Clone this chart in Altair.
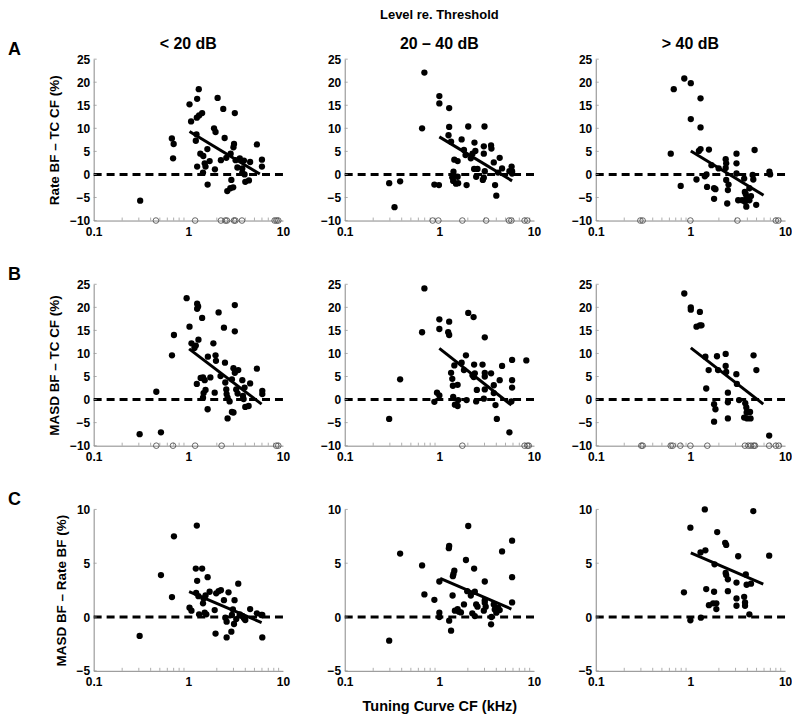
import altair as alt
import pandas as pd

FONT = "Liberation Sans"
W, H = 190, 162

# ---------------- text ----------------
main_title = ["Level re. Threshold"]
col_headers = ["< 20 dB", "20 – 40 dB", "> 40 dB"]
row_letters = ["A", "B", "C"]
row_ytitles = ["Rate BF – TC CF (%)", "MASD BF – TC CF (%)", "MASD BF – Rate BF (%)"]
x_title = "Tuning Curve CF (kHz)"

# ---------------- axis ticks ----------------
x_major = [0.1, 1, 10]
x_minor = [0.2, 0.3, 0.4, 0.5, 0.6, 0.7, 0.8, 0.9, 2, 3, 4, 5, 6, 7, 8, 9]
y_ticks_ab = [-10, -5, 0, 5, 10, 15, 20, 25]
y_ticks_c = [-5, 0, 5, 10]
y_dom_ab = [-10, 25]
y_dom_c = [-5, 10]

# ---------------- data: [CF kHz, difference %] ----------------
a1_points = [[0.31, -5.7], [0.67, 7.8], [0.70, 6.6], [0.69, 3.5], [1.03, 15.2], [1.07, 11.5],
             [1.2, 7.3], [1.22, 8.7], [1.24, 16.4], [1.29, 18.5], [1.23, 12.3], [1.30, 12.8],
             [1.40, 13.3], [1.24, 1.7], [1.34, 4.5], [1.44, 4.0], [1.43, 0.4], [1.49, 2.4],
             [1.59, 5.5], [1.52, 1.7], [1.6, -2.2], [1.68, 2.9], [1.87, 10.0], [1.94, 9.2],
             [1.91, 1.1], [2.04, 16.6], [2.34, 14.2], [2.42, 7.9], [2.21, 3.1], [2.52, 3.6],
             [2.58, -3.6], [2.78, -3.0], [2.85, -1.2], [2.8, 4.5], [2.98, -2.8], [3.04, 6.6],
             [3.1, 13.3], [3.0, 5.9], [3.16, 3.1], [3.3, 1.5], [3.5, 3.5], [3.72, 1.3],
             [3.72, 0.4], [3.87, 3.0], [3.93, 0.0], [4.0, -1.6], [4.37, -1.3], [4.5, 2.7],
             [5.3, 6.5], [6.0, 3.2], [6.0, 1.7]]
a1_open = [0.455, 1.18, 2.21, 2.46, 2.56, 3.04, 3.14, 3.69, 8.17, 8.57, 8.92]
a1_fit = [[1.03, 9.3], [5.7, 0.1]]

a2_points = [[0.695, 22.1], [0.657, 10.0], [0.295, -1.9], [0.336, -7.1], [0.385, -1.5],
             [0.886, -2.2], [0.99, -2.3], [1.0, 17.0], [1.0, 15.4], [1.27, 14.4], [1.27, 10.3],
             [1.25, 8.5], [1.33, 7.1], [1.41, 0.6], [1.37, -0.6], [1.4, -1.4], [1.44, 3.2],
             [1.56, 2.9], [1.56, -0.5], [1.5, -2.0], [1.58, -1.9], [1.72, 7.6], [1.82, 5.3],
             [1.89, 4.2], [1.94, -2.3], [2.02, 10.4], [2.15, 3.5], [2.24, 4.5], [2.33, 1.2],
             [2.35, 6.9], [2.4, 5.1], [2.45, -0.5], [2.53, 1.2], [2.88, -1.2], [2.95, -0.7],
             [2.95, 6.1], [2.95, 4.5], [3.0, 10.4], [3.02, 0.7], [3.52, 6.3], [3.55, 5.6],
             [3.76, 2.6], [3.88, -2.3], [4.0, -4.6], [4.17, 0.4], [4.34, 3.6], [4.6, 1.3],
             [5.8, 1.7], [5.87, 0.7], [5.87, 0.2], [5.5, 0.7]]
a2_open = [0.85, 0.976, 1.75, 3.12, 5.45, 5.77, 7.96, 8.5]
a2_fit = [[1.0, 8.15], [5.87, -1.4]]

a3_points = [[0.62, 4.5], [0.667, 18.5], [0.862, 20.8], [1.01, 19.8], [1.01, 12.0], [0.79, -2.5],
             [1.16, -1.1], [1.28, 16.5], [1.28, 10.2], [1.23, 5.1], [1.28, 5.5], [1.42, -0.4],
             [1.48, 0.0], [1.57, 5.4], [1.5, -2.7], [1.78, -3.0], [1.84, -3.2], [1.78, -5.3],
             [1.67, 2.0], [1.99, 1.3], [2.36, 3.3], [2.39, 2.4], [2.36, 1.4], [2.39, -1.2],
             [2.49, -3.4], [2.45, -6.3], [2.53, -2.2], [3.07, 4.5], [3.07, 2.4], [3.07, 0.2],
             [3.2, -5.6], [3.52, -5.6], [3.7, -0.9], [3.76, -3.8], [3.85, -4.3], [3.9, -5.2],
             [3.78, -5.9], [3.9, -7.0], [4.2, -3.0], [4.2, -5.6], [4.37, -4.7], [4.55, -0.1],
             [4.62, -1.1], [4.77, 5.3], [4.96, -6.6], [6.84, 0.6], [6.96, 0.0]]
a3_open = [0.296, 0.313, 1.0, 3.14, 8.0, 8.5]
a3_fit = [[1.01, 5.1], [5.93, -4.5]]

b1_points = [[0.306, -7.5], [0.459, 1.7], [0.514, -7.1], [0.672, 9.6], [0.705, 14.0], [0.96, 22.0],
             [1.03, 15.8], [1.08, 12.2], [1.16, 11.2], [1.2, 11.7], [1.24, 20.8], [1.27, 20.2],
             [1.24, 19.7], [1.28, 13.0], [1.23, 3.4], [1.35, 4.7], [1.4, 17.7], [1.43, 4.8],
             [1.49, 4.2], [1.45, 1.4], [1.43, 0.4], [1.52, 2.1], [1.6, -2.1], [1.61, 9.3],
             [1.71, 4.8], [1.84, 12.2], [1.9, 1.5], [1.94, 9.6], [1.96, 8.4], [2.09, 18.9],
             [2.19, 5.1], [2.38, 15.6], [2.44, 8.0], [2.46, 3.7], [2.52, 2.2], [2.54, 1.2],
             [2.6, -4.1], [2.6, 0.4], [2.73, -0.4], [2.89, 4.4], [2.89, -2.7], [3.0, 6.8],
             [3.0, -2.8], [3.1, 20.5], [3.1, 14.8], [3.1, 5.8], [3.21, 2.2], [3.37, 6.4],
             [3.32, 1.3], [3.72, 4.2], [3.78, 0.8], [3.84, 0.1], [3.93, 2.6], [4.0, -1.6],
             [4.34, -1.4], [4.5, 3.5], [5.3, 6.7], [6.05, 1.9], [6.05, 1.2]]
b1_open = [0.459, 0.689, 1.18, 2.25, 8.5, 8.92]
b1_fit = [[1.02, 11.0], [5.95, -1.0]]

b2_points = [[0.295, -4.2], [0.385, 4.4], [0.657, 14.6], [0.695, 24.1], [0.886, -0.5], [0.945, 1.5],
             [1.0, 0.9], [1.0, 17.4], [1.0, 15.3], [1.27, 16.9], [1.24, 14.6], [1.27, 14.0],
             [1.33, 5.8], [1.37, 4.5], [1.39, 3.0], [1.40, 0.6], [1.44, 7.4], [1.46, -1.1],
             [1.56, -1.4], [1.56, 3.2], [1.58, -0.1], [1.72, 8.0], [1.82, 6.4], [1.91, 9.6],
             [1.94, -0.1], [2.02, 18.8], [2.24, 5.3], [2.3, 17.9], [2.31, 4.9], [2.33, 7.6],
             [2.37, 5.7], [2.49, 2.1], [2.45, -0.4], [2.86, 7.6], [2.95, 0.2], [3.02, 5.8],
             [3.02, 5.0], [3.02, 13.5], [3.02, 2.2], [3.52, 5.7], [3.76, 3.1], [3.76, 1.4],
             [3.92, -1.2], [4.05, -4.2], [4.34, 4.2], [4.6, 7.3], [5.5, -7.1], [5.77, -0.4],
             [5.87, 8.6], [5.87, 4.2], [5.87, 2.6], [8.3, 8.5]]
b2_open = [1.75, 7.96, 8.5, 8.8]
b2_fit = [[1.0, 11.1], [5.77, -1.2]]

b3_points = [[0.862, 23.0], [1.01, 20.0], [1.01, 19.5], [1.26, 19.0], [1.16, 15.8], [1.26, 16.1],
             [1.31, 16.1], [1.44, 9.3], [1.56, 6.4], [1.47, 2.4], [1.78, -1.0], [1.84, -2.1],
             [1.78, -4.8], [1.91, 9.4], [1.96, 6.4], [2.36, 9.9], [2.36, 7.3], [2.39, 6.0],
             [2.49, 1.5], [2.49, -0.6], [2.49, -4.1], [3.06, 5.5], [3.1, 3.4], [3.27, -0.1],
             [3.7, -3.9], [3.8, -0.8], [3.9, -1.7], [3.93, -2.8], [3.98, -4.1], [4.27, -2.7],
             [4.32, -4.1], [4.65, 9.6], [4.98, 6.4], [6.8, -7.8]]
b3_open = [0.303, 0.313, 0.62, 0.65, 0.783, 1.0, 1.51, 3.77, 4.1, 4.37, 4.66, 4.81, 6.8, 8.0, 8.6]
b3_fit = [[1.01, 11.2], [5.89, -1.0]]

c1_points = [[0.306, -1.76], [0.514, 3.9], [0.672, 1.85], [0.705, 7.5], [1.03, 0.86], [1.08, 0.59],
             [1.2, 4.5], [1.23, 8.5], [1.24, 3.36], [1.21, 2.25], [1.28, 1.94], [1.3, 0.25],
             [1.4, 4.5], [1.43, 1.27], [1.45, 1.73], [1.49, 0.4], [1.52, 2.0], [1.55, 0.25],
             [1.6, 3.7], [1.68, 2.35], [1.9, 0.65], [1.94, -1.54], [1.97, 2.2], [2.09, 2.4],
             [2.21, 2.5], [2.38, 1.57], [2.46, -0.06], [2.54, -0.43], [2.54, -1.9], [2.66, 2.3],
             [2.85, -1.36], [2.89, 0.19], [2.96, 0.71], [3.04, -0.65], [3.08, 1.57], [3.21, -0.19],
             [3.37, 3.1], [3.5, 0.25], [3.72, 0.1], [3.87, -0.12], [4.0, -0.28], [4.5, 0.74],
             [5.3, 0.34], [5.9, 0.19], [6.05, -1.9], [6.05, 0.19]]
c1_fit = [[1.02, 2.35], [5.95, -0.52]]

c2_points = [[0.295, -2.2], [0.385, 5.9], [0.657, 4.8], [0.695, 2.1], [0.886, 1.6], [1.0, 3.3],
             [1.0, 0.4], [1.0, 0.0], [1.27, 6.6], [1.26, 6.4], [1.27, -0.34], [1.33, -1.27],
             [1.38, 2.0], [1.39, 3.8], [1.44, 4.3], [1.41, 4.0], [1.46, 0.59], [1.56, 0.74],
             [1.61, 0.5], [1.69, 0.43], [1.82, 1.17], [1.91, 5.3], [1.97, 2.4], [2.02, 8.46],
             [2.15, 2.0], [2.23, 0.34], [2.33, 4.5], [2.37, 2.35], [2.37, 0.09], [2.45, 1.17],
             [2.53, 0.96], [2.95, 0.59], [3.02, 3.3], [3.02, 1.57], [3.02, 1.33], [3.09, 0.96],
             [3.52, -0.68], [3.55, 0.0], [3.76, 1.17], [3.85, 0.71], [4.0, 0.4], [4.17, 0.86],
             [4.34, 0.65], [4.6, 6.1], [5.87, 7.1], [5.87, 3.7], [5.87, 1.36]]
c2_fit = [[1.02, 3.6], [5.77, 0.74]]

c3_points = [[0.855, 2.3], [1.0, 8.3], [1.0, -0.3], [1.28, 6.0], [1.29, -0.06], [1.42, 10.0],
             [1.44, 6.2], [1.47, 2.6], [1.57, 1.1], [1.74, 1.27], [1.78, 2.35], [1.8, 4.9],
             [1.88, 0.74], [1.88, 1.27], [1.92, 7.9], [2.33, 6.9], [2.39, 6.7], [2.36, 4.1],
             [2.39, 3.9], [2.49, 3.5], [2.49, 2.4], [3.07, 3.2], [3.07, 1.73], [3.07, 1.05],
             [3.2, 5.65], [3.7, 1.88], [3.78, 1.36], [3.78, 1.05], [3.85, 3.95], [3.93, 3.0],
             [4.2, 0.25], [4.37, 3.1], [4.62, 9.85], [6.8, 5.7]]
c3_fit = [[1.01, 5.96], [5.89, 3.06]]


def panel(points, open_cf, fit, ydom, yticks, row, col):
    show_ytitle = col == 0
    show_xtitle = (row == 2 and col == 1)
    xenc = alt.X("cf:Q",
                 scale=alt.Scale(type="log", domain=[0.1, 10], nice=False),
                 axis=alt.Axis(values=x_major, format="~g", labelFlush=False, labelPadding=6,
                               title=x_title if show_xtitle else None,
                               titlePadding=12, titleFontSize=14.5))
    yenc = alt.Y("d:Q",
                 scale=alt.Scale(domain=ydom, nice=False, zero=False),
                 axis=alt.Axis(values=yticks, title=row_ytitles[row] if show_ytitle else None,
                               titlePadding=8, titleFontSize=13.5))

    zero_df = pd.DataFrame({"cf": [0.1, 10], "d": [0, 0]})
    zero = alt.Chart(zero_df).mark_line(color="black", strokeWidth=3, strokeDash=[8, 5]).encode(
        x=xenc, y=yenc)

    pts = pd.DataFrame(points, columns=["cf", "d"])
    dots = alt.Chart(pts).mark_circle(color="black", size=40, opacity=1).encode(x=xenc, y=yenc)

    fit_df = pd.DataFrame(fit, columns=["cf", "d"])
    fitline = alt.Chart(fit_df).mark_line(color="black", strokeWidth=3).encode(x=xenc, y=yenc)

    minor_df = pd.DataFrame({"cf": x_minor})
    minor = alt.Chart(minor_df).mark_rule(color="#999", strokeWidth=0.8).encode(
        x=xenc, y=alt.value(H), y2=alt.value(H - 3))

    ytick_df = pd.DataFrame({"d": yticks})
    yt = alt.Chart(ytick_df).mark_rule(color="#999", strokeWidth=0.8).encode(
        y=yenc, x=alt.value(0), x2=alt.value(3))

    layers = [zero, minor, yt, dots, fitline]

    if open_cf:
        odf = pd.DataFrame({"cf": open_cf, "d": [ydom[0]] * len(open_cf)})
        opens = alt.Chart(odf).mark_point(shape="circle", filled=False, color="#444",
                                          strokeWidth=0.8, size=32, opacity=1).encode(x=xenc, y=yenc)
        layers.append(opens)

    if col == 0:
        ldf = pd.DataFrame({"t": [row_letters[row]]})
        layers.append(alt.Chart(ldf).mark_text(font=FONT, fontWeight="bold", fontSize=18,
                                               align="left", baseline="alphabetic").encode(
            x=alt.value(-86), y=alt.value(-4), text="t:N"))
    if row == 0:
        hdf = pd.DataFrame({"t": [col_headers[col]]})
        layers.append(alt.Chart(hdf).mark_text(font=FONT, fontWeight="bold", fontSize=16,
                                               align="center", baseline="alphabetic").encode(
            x=alt.value(W / 2), y=alt.value(-10), text="t:N"))
        if col == 1:
            tdf = pd.DataFrame({"t": main_title})
            layers.append(alt.Chart(tdf).mark_text(font=FONT, fontWeight="bold", fontSize=13,
                                                   align="center", baseline="alphabetic").encode(
                x=alt.value(W / 2), y=alt.value(-40), text="t:N"))

    return alt.layer(*layers).properties(width=W, height=H)


grid = [
    [(a1_points, a1_open, a1_fit), (a2_points, a2_open, a2_fit), (a3_points, a3_open, a3_fit)],
    [(b1_points, b1_open, b1_fit), (b2_points, b2_open, b2_fit), (b3_points, b3_open, b3_fit)],
    [(c1_points, [], c1_fit), (c2_points, [], c2_fit), (c3_points, [], c3_fit)],
]

charts = []
for r in range(3):
    ydom = y_dom_c if r == 2 else y_dom_ab
    yticks = y_ticks_c if r == 2 else y_ticks_ab
    for c in range(3):
        p, o, f = grid[r][c]
        charts.append(panel(p, o, f, ydom, yticks, r, c))

chart = alt.concat(*charts, columns=3, spacing={"row": 64, "column": 62}, bounds="flush").properties(
    padding={"left": 0, "top": 0, "right": 0, "bottom": 0}
).configure_view(stroke=None).configure_axis(
    grid=False, ticks=False, domainColor="#888", domainWidth=1,
    labelFont=FONT, labelFontWeight="bold", labelFontSize=12, labelColor="black", labelPadding=4,
    titleFont=FONT, titleFontWeight="bold", titleColor="black"
)

chart.save("out.html", embed_options={"renderer": "svg", "actions": False})
